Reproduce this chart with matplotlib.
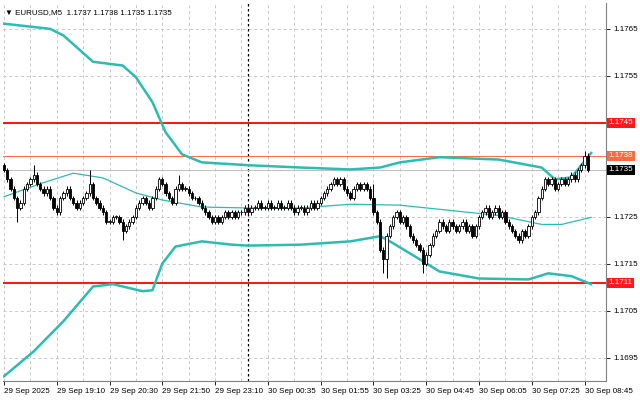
import numpy as np
import matplotlib.pyplot as plt
from matplotlib.patches import Rectangle
import matplotlib.transforms as mtransforms

plt.rcParams['font.family'] = ['Liberation Sans', 'DejaVu Sans']

# ----- Candle closes (EURUSD M5), bar index 0..177 -----
closes = [
    1.1735, 1.1733, 1.1731, 1.1729, 1.1727, 1.1728, 1.1731, 1.1732, 1.1733, 1.1734,
    1.1732, 1.1731, 1.1730, 1.1731, 1.1729, 1.1727, 1.1726, 1.1729, 1.1730, 1.1731,
    1.1729, 1.1728, 1.1727, 1.1728, 1.1729, 1.1730, 1.1732, 1.1729, 1.1728, 1.1727,
    1.1726, 1.1724, 1.1724, 1.1725, 1.1725, 1.1724, 1.1722, 1.1723, 1.1724, 1.1725,
    1.1727, 1.1728, 1.1729, 1.1728, 1.1727, 1.1729, 1.1731, 1.1733, 1.1732, 1.1730,
    1.1729, 1.1728, 1.1731, 1.1732, 1.1731, 1.1731, 1.1730, 1.1729, 1.1729, 1.1728,
    1.1727, 1.1726, 1.1725, 1.1724, 1.1725, 1.1724, 1.1725, 1.1726, 1.1725, 1.1726,
    1.1725, 1.1726, 1.1726, 1.1727, 1.1726, 1.1727, 1.1727, 1.1728, 1.1727, 1.1727,
    1.1728, 1.1727, 1.1727, 1.1728, 1.1727, 1.1727, 1.1728, 1.1727, 1.1726, 1.1727,
    1.1727, 1.1726, 1.1727, 1.1728, 1.1727, 1.1728, 1.1729, 1.1730, 1.1731, 1.1732,
    1.1733, 1.1732, 1.1733, 1.1731, 1.1730, 1.1729, 1.1731, 1.1732, 1.1731, 1.1732,
    1.1731, 1.1729, 1.1726, 1.1724, 1.1718, 1.1716, 1.1721, 1.1723, 1.1725, 1.1726,
    1.1724, 1.1725, 1.1723, 1.1721, 1.1720, 1.1719, 1.1718, 1.1715, 1.1717, 1.1719,
    1.1721, 1.1722, 1.1724, 1.1723, 1.1722, 1.1724, 1.1723, 1.1722, 1.1723, 1.1724,
    1.1722, 1.1723, 1.1721, 1.1723, 1.1725, 1.1726, 1.1727, 1.1725, 1.1726, 1.1727,
    1.1725, 1.1726, 1.1724, 1.1723, 1.1722, 1.1721, 1.1720, 1.1722, 1.1721, 1.1723,
    1.1725, 1.1726, 1.1729, 1.1731, 1.1733, 1.1732, 1.1733, 1.1731, 1.1732, 1.1733,
    1.1732, 1.1733, 1.1734, 1.1733, 1.1735, 1.1736, 1.1738, 1.1735,
]
first_open = 1.1736
# ----- Wick spikes: bar -> (high, low) -----
spikes = {4: (None, 1.1724), 9: (1.1736, None), 26: (1.1735, None), 36: (None, 1.1720),
          53: (1.1734, None), 112: (1.1732, None), 115: (None, 1.1713), 116: (None, 1.1712),
          127: (None, 1.1713), 176: (1.1739, None)}
wick = 0.00005

# ----- Bollinger bands, sampled (bar index, price) -----
upper_idx = [0, 14, 18, 27, 36, 40, 45, 49, 54, 60, 74, 90, 105, 114, 120, 132, 150, 163, 167, 172, 178]
upper_val = [1.17661, 1.1765, 1.17636, 1.1758, 1.17572, 1.17547, 1.17494, 1.17430, 1.17383, 1.17366, 1.17360,
             1.17355, 1.17351, 1.17355, 1.17366, 1.17377, 1.17372, 1.17355, 1.17330, 1.17334, 1.17386]
mid_idx = [0, 12, 21, 30, 40, 48, 60, 74, 90, 105, 120, 135, 150, 163, 169, 178]
mid_val = [1.17293, 1.17323, 1.17343, 1.17333, 1.17301, 1.17286, 1.17271, 1.17269, 1.17269, 1.17277,
           1.17275, 1.17264, 1.17253, 1.17234, 1.17234, 1.17249]
lower_idx = [0, 9, 18, 27, 33, 42, 45, 48, 52, 60, 69, 74, 90, 105, 114, 117, 126, 132, 144, 159, 165, 172, 178]
lower_val = [1.16911, 1.16964, 1.17028, 1.17102, 1.17107, 1.17092, 1.17094, 1.17151, 1.17187, 1.17198, 1.17191,
             1.17189, 1.17191, 1.17198, 1.17209, 1.17198, 1.17160, 1.17134, 1.17119, 1.17117, 1.17130,
             1.17124, 1.17107]

price_ticks = [1.1765, 1.1755, 1.1745, 1.1735, 1.1725, 1.1715, 1.1705, 1.1695]
boxed = [(1.1745, '#ff1a1a'), (1.1738, '#ff6a3d'), (1.1735, 'black'), (1.1711, '#ff1a1a')]
time_labels = ['29 Sep 2025', '29 Sep 19:10', '29 Sep 20:30', '29 Sep 21:50', '29 Sep 23:10', '30 Sep 00:35',
               '30 Sep 01:55', '30 Sep 03:25', '30 Sep 04:45', '30 Sep 06:05', '30 Sep 07:25', '30 Sep 08:45']
time_idx = [0, 16, 32, 48, 64, 80, 96, 112, 128, 144, 160, 176]

band_col = '#2cbcb0'

fig = plt.figure(figsize=(6.4, 4.01), dpi=100)
ax = fig.add_axes([3 / 640, 20 / 401, 603 / 640, 378 / 401])
ax.set_xlim(-0.3, 182.5)
ax.set_ylim(1.16901, 1.17705)

# ----- Grid -----
for gx in range(0, 183, 8):
    ax.axvline(gx, color='#c8c8c8', ls=(0, (3, 3)), lw=0.7, zorder=0)
for gy in price_ticks:
    ax.axhline(gy, color='#c8c8c8', ls=(0, (3, 3)), lw=0.7, zorder=0)
ax.axvline(74, color='black', ls=(0, (2, 2)), lw=0.9, zorder=1)

# ----- Levels -----
ax.axhline(1.1745, color='#ff0000', lw=1.3, zorder=2)
ax.axhline(1.1711, color='#ff0000', lw=1.3, zorder=2)
ax.axhline(1.1738, color='#ff6a3d', lw=0.7, zorder=2)
ax.axhline(1.1735, color='#c0c0c0', lw=0.7, zorder=2)

# ----- Bands -----
ax.plot(upper_idx, upper_val, color=band_col, lw=1.8, zorder=3)
ax.plot(lower_idx, lower_val, color=band_col, lw=1.8, zorder=3)
ax.plot(mid_idx, mid_val, color=band_col, lw=0.9, zorder=3)

# ----- Candles -----
opens = [first_open] + closes[:-1]
for i, (o, c) in enumerate(zip(opens, closes)):
    hi = max(o, c) + wick
    lo = min(o, c) - wick
    if i in spikes:
        sh, sl = spikes[i]
        hi = sh if sh else hi
        lo = sl if sl else lo
    ax.vlines(i, lo, hi, color='black', lw=0.7, zorder=4)
    bottom = min(o, c)
    h = max(abs(c - o), 0.00001)
    face = 'white' if c >= o else 'black'
    ax.add_patch(Rectangle((i - 0.35, bottom), 0.7, h, facecolor=face, edgecolor='black', lw=0.6, zorder=5))

# ----- Axes -----
boxed_vals = [v for v, _ in boxed]
ax.yaxis.tick_right()
ax.set_yticks(price_ticks)
ax.set_yticklabels(['' if p in boxed_vals else f'{p:.4f}' for p in price_ticks])
ax.set_xticks(time_idx)
ax.set_xticklabels(time_labels, ha='left')
ax.tick_params(labelsize=5.8, length=3, width=0.6, pad=2, colors='black')
for s in ['top', 'left']:
    ax.spines[s].set_visible(False)
for s in ['right', 'bottom']:
    ax.spines[s].set_color('#808080')
    ax.spines[s].set_linewidth(0.8)

trans = mtransforms.blended_transform_factory(ax.transAxes, ax.transData)
for val, bg in boxed:
    ax.text(1.004, val, f'{val:.4f}', transform=trans, fontsize=5.8, color='white', va='center', ha='left',
            bbox=dict(boxstyle='square,pad=0.2', fc=bg, ec='none'), zorder=10, clip_on=False)

ax.text(0.004, 0.985, '\u25BC EURUSD,M5  1.1737 1.1738 1.1735 1.1735', transform=ax.transAxes,
        fontsize=5.8, va='top', ha='left', color='black', family=['Liberation Sans', 'DejaVu Sans'])

fig.savefig('out.png', dpi=100)
